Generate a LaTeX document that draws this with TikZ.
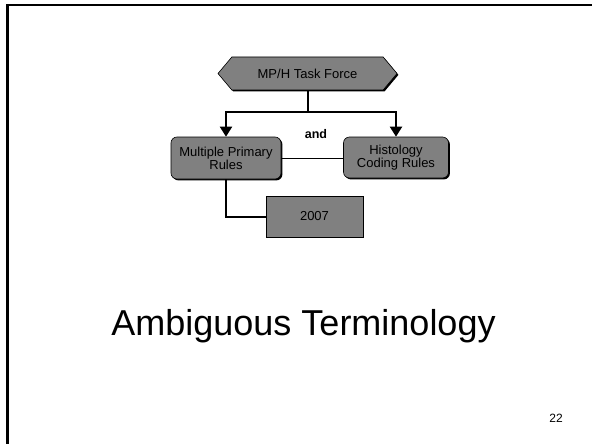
\documentclass[tikz,border=0pt]{standalone}
\usepackage{fontspec}
\setmainfont{Liberation Sans}
\usetikzlibrary{shapes.symbols,shadows,arrows.meta}

\begin{document}
\begin{tikzpicture}[x=1pt,y=-1pt,
    chartbox/.style={draw=black,line width=0.6,fill={rgb,255:red,128;green,128;blue,128},
      align=center,inner sep=0pt,font=\fontsize{13pt}{13pt}\selectfont,
      drop shadow={shadow xshift=1.4pt,shadow yshift=-1.4pt,opacity=1,fill=black}},
    link/.style={line width=2,black},
    down/.style={link,-{Triangle[width=12pt,length=10pt]}}]
            \useasboundingbox (0,0) rectangle (592,444);
            % slide frame
            \draw [line width=2.5, black] (7.5,444) -- (7.5,5) -- (592,5);
            % task force
            \node [chartbox,signal,signal to=east and west,signal pointer angle=100,
              minimum width=179pt,minimum height=33pt] (force) at (307.5,73.5) {MP/H Task Force};
            % rule sets
            \node [chartbox,rounded corners=6pt,minimum width=110pt,minimum height=42pt] (mpr) at (226,158) {Multiple Primary\\Rules};
            \node [chartbox,rounded corners=6pt,minimum width=105pt,minimum height=41pt] (hist) at (396,157.5) {Histology\\Coding Rules};
            \node [chartbox,minimum width=97pt,minimum height=41pt] (year) at (314.5,216.5) {2007};
            \node [font=\bfseries\fontsize{12.5pt}{13pt}\selectfont] (and) at (316,134) {and};
            % connectors
            \coordinate (split) at (307.5,112);
            \draw [link] (force.south) -- (split);
            \draw [down] (split) -| (mpr.north);
            \draw [down] (split) -| (hist.north);
            \draw [line width=1, black] (mpr.east) -- (mpr.east -| hist.west);
            \draw [link] (mpr.south) |- (year.west);
            % title and page number
            \node [anchor=base,font=\fontsize{36pt}{40pt}\selectfont] (title) at (303.5,335) {Ambiguous Terminology};
            \node [anchor=base,font=\fontsize{12pt}{13pt}\selectfont] (page) at (556,422) {22};
         \end{tikzpicture}
\end{document}
